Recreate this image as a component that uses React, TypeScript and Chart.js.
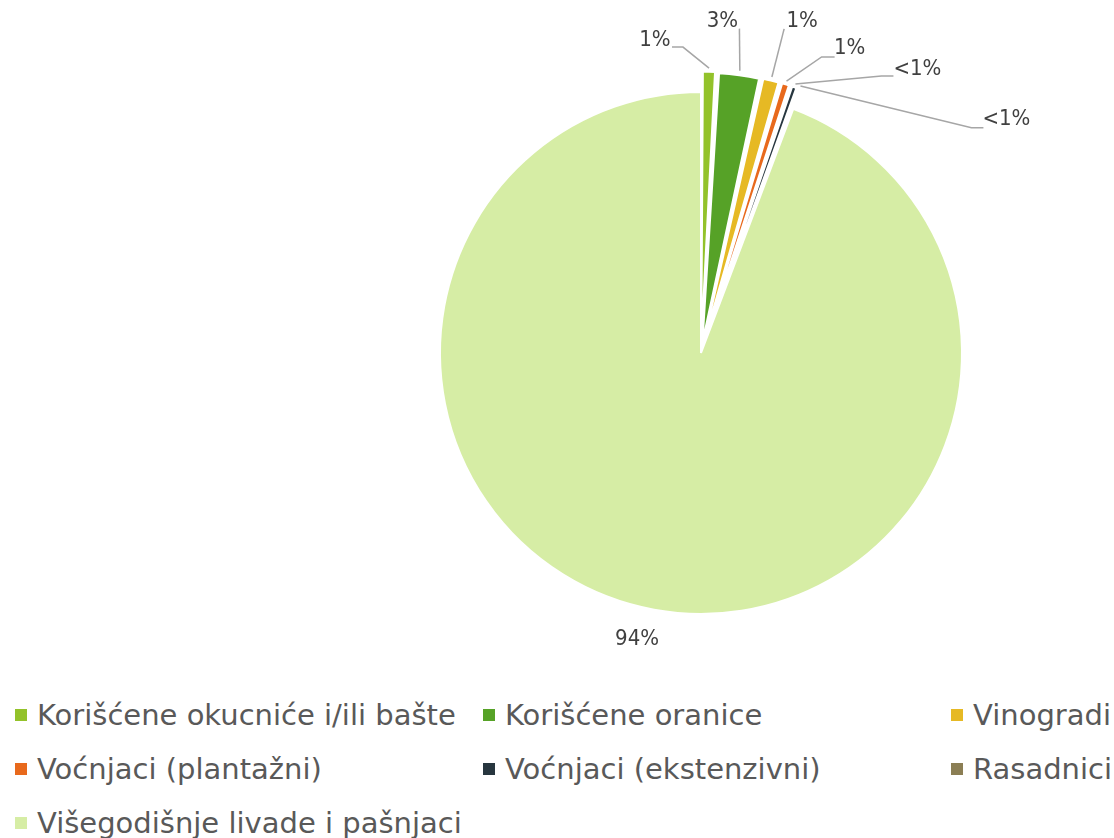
import React, { useEffect, useRef } from "react";
import { Chart, registerables } from "chart.js";

Chart.register(...registerables);

const categories = [
  "Korišćene okucniće i/ili bašte",
  "Korišćene oranice",
  "Vinogradi",
  "Voćnjaci (plantažni)",
  "Voćnjaci (ekstenzivni)",
  "Rasadnici",
  "Višegodišnje livade i pašnjaci",
];
const shares = [0.9, 2.55, 1.1, 0.6, 0.45, 0.15, 94.25];
const colors = ["#93C22A", "#56A227", "#E6B924", "#E8691C", "#27363F", "#8B7E54", "#D6EDA5"];
const sliceOffsets = [42, 42, 42, 42, 42, 42, 0];

// label layout relative to the slice's outer mid-point: label centre, then leader polyline points
const labelLayout = [
  { lx: -54, ly: -31, pts: [[-26, -24], [-37, -24]] },
  { lx: -17, ly: -52, pts: [[0, -45]] },
  { lx: 31, ly: -59, pts: [[13, -51]] },
  { lx: 64, ly: -36, pts: [[36, -27], [49, -27]] },
  { lx: 123, ly: -18, pts: [[87, -11], [99, -11]] },
  { lx: 207, ly: 31, pts: [[172, 39], [184, 39]] },
  { lx: -17, ly: 30, pts: [] },
];

const legendColumns = [15, 483, 951];
const legendRows = [715, 769, 823];

function pctText(v: number, total: number) {
  const p = (v / total) * 100;
  if (p < 0.5) return "<1%";
  return Math.round(p) + "%";
}

const labelPlugin = {
  id: "pieLabels",
  afterDatasetsDraw(chart: any) {
    const ctx = chart.ctx;
    const meta = chart.getDatasetMeta(0);
    const total = shares.reduce((a, b) => a + b, 0);
    ctx.save();
    meta.data.forEach((arc: any, i: number) => {
      const { x, y, startAngle, endAngle, outerRadius } = arc.getProps(
        ["x", "y", "startAngle", "endAngle", "outerRadius"],
        true
      );
      const mid = (startAngle + endAngle) / 2;
      const off = (arc.options.offset || 0) / 2;
      const r = outerRadius + off;
      const ax = x + Math.cos(mid) * r;
      const ay = y + Math.sin(mid) * r;
      const lay = labelLayout[i];
      if (lay.pts.length) {
        ctx.beginPath();
        ctx.strokeStyle = "#A6A6A6";
        ctx.lineWidth = 1.5;
        ctx.moveTo(ax + Math.cos(mid) * 3, ay + Math.sin(mid) * 3);
        lay.pts.forEach((p) => ctx.lineTo(ax + p[0], ay + p[1]));
        ctx.stroke();
      }
      ctx.fillStyle = "#404040";
      ctx.font = "22px 'Liberation Sans Narrow', 'DejaVu Sans Condensed', sans-serif";
      ctx.textAlign = "center";
      ctx.textBaseline = "middle";
      ctx.fillText(pctText(shares[i], total), ax + lay.lx, ay + lay.ly);
    });
    ctx.restore();
  },
};

export default function App() {
  const ref = useRef<HTMLCanvasElement>(null);
  useEffect(() => {
    const chart = new Chart(ref.current!, {
      type: "pie",
      data: {
        labels: categories,
        datasets: [
          {
            data: shares,
            backgroundColor: colors,
            borderColor: "#FFFFFF",
            borderWidth: 2,
            offset: sliceOffsets,
          },
        ],
      },
      options: {
        responsive: false,
        animation: false,
        radius: 261,
        layout: { padding: { left: 401, right: 113, top: 53, bottom: 27 } },
        plugins: { legend: { display: false }, tooltip: { enabled: false } },
      },
      plugins: [labelPlugin],
    } as any);
    return () => chart.destroy();
  }, []);

  return (
    <div style={{ position: "absolute", left: 0, top: 0, width: 1114, height: 838, background: "#fff" }}>
      <canvas ref={ref} width={1114} height={680} style={{ position: "absolute", left: 0, top: 0 }} />
      {categories.map((c, i) => {
        const col = legendColumns[i % 3];
        const row = legendRows[Math.floor(i / 3)];
        return (
          <div
            key={c}
            style={{
              position: "absolute",
              left: col,
              top: row - 20,
              height: 40,
              display: "flex",
              alignItems: "center",
              whiteSpace: "nowrap",
              fontFamily: "'DejaVu Sans', sans-serif",
              fontSize: 29,
              color: "#595959",
            }}
          >
            <span style={{ display: "inline-block", width: 12, height: 12, background: colors[i], marginRight: 10 }} />
            <span>{c}</span>
          </div>
        );
      })}
    </div>
  );
}
